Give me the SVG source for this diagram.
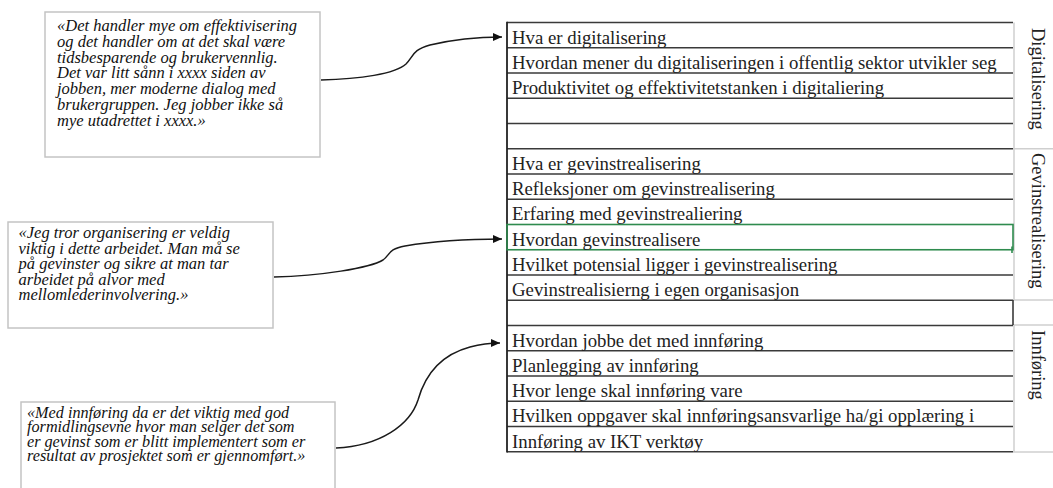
<svg xmlns="http://www.w3.org/2000/svg" width="1053" height="488" viewBox="0 0 1053 488">
<style>
.box{fill:#fff;stroke:#c4c4c4;stroke-width:1.5}
.q{font-family:"Liberation Serif","Times New Roman",serif;font-style:italic;fill:#111}
.q1{font-size:16.5px}
.q3{font-size:16.2px}
.row{font-family:"Liberation Serif","Times New Roman",serif;font-size:18.8px;fill:#222}
.lab{font-family:"Liberation Serif","Times New Roman",serif;font-size:18.5px;fill:#222}
.hl{stroke:#3a3a3a;stroke-width:1.6}
.gl{stroke:#cfcfcf;stroke-width:1.5}
.conn{fill:none;stroke:#1a1a1a;stroke-width:1.5}
</style>
<defs>
<marker id="arr" markerUnits="userSpaceOnUse" markerWidth="10" markerHeight="8" refX="9" refY="4" orient="auto">
<path d="M0,0 L9,4 L0,8 Z" fill="#111"/>
</marker>
</defs>
<rect width="1053" height="488" fill="#fff"/>

<g id="quote1">
<rect class="box" x="45" y="12" width="275" height="145"/>
<text class="q q1" x="57" y="31"><tspan x="57" y="31">«Det handler mye om effektivisering</tspan><tspan x="57" y="46.8">og det handler om at det skal være</tspan><tspan x="57" y="62.6">tidsbesparende og brukervennlig.</tspan><tspan x="57" y="78.4">Det var litt sånn i xxxx siden av</tspan><tspan x="57" y="94.2">jobben, mer moderne dialog med</tspan><tspan x="57" y="110">brukergruppen. Jeg jobber ikke så</tspan><tspan x="57" y="125.8">mye utadrettet i xxxx.»</tspan></text>
</g>

<g id="quote2">
<rect class="box" x="8" y="222" width="265" height="106"/>
<text class="q q1" x="18.5" y="238"><tspan x="18.5" y="238">«Jeg tror organisering er veldig</tspan><tspan x="18.5" y="253.5">viktig i dette arbeidet. Man må se</tspan><tspan x="18.5" y="269">på gevinster og sikre at man tar</tspan><tspan x="18.5" y="284.5">arbeidet på alvor med</tspan><tspan x="18.5" y="300">mellomlederinvolvering.»</tspan></text>
</g>

<g id="quote3">
<rect class="box" x="21" y="402" width="314" height="100"/>
<text class="q q3" x="27" y="418"><tspan x="27" y="418">«Med innføring da er det viktig med god</tspan><tspan x="27" y="432.3">formidlingsevne hvor man selger det som</tspan><tspan x="27" y="446.6">er gevinst som er blitt implementert som er</tspan><tspan x="27" y="460.9">resultat av prosjektet som er gjennomført.»</tspan></text>
</g>

<g id="table">
<g id="label-column">
<line class="gl" x1="1014" y1="22.5" x2="1014" y2="300" />
<line class="gl" x1="1014" y1="325" x2="1014" y2="452" />
<line class="gl" x1="1013" y1="148.8" x2="1053" y2="148.8" />
<line class="gl" x1="1013" y1="300" x2="1053" y2="300" />
<line class="gl" x1="1013" y1="325" x2="1053" y2="325" />
<line class="gl" x1="1013" y1="452" x2="1053" y2="452" />
<line class="hl" x1="1013" y1="300" x2="1013" y2="325" />
</g>
<g id="label-digitalisering"><text class="lab" transform="translate(1032,28) rotate(90)">Digitalisering</text></g>
<g id="label-gevinstrealisering"><text class="lab" transform="translate(1032,153) rotate(90)">Gevinstrealisering</text></g>
<g id="label-innforing"><text class="lab" transform="translate(1032,330) rotate(90)">Innføring</text></g>

<g id="rows">
<line class="hl" x1="507" y1="22.5" x2="1013" y2="22.5"/>
<line class="hl" x1="507" y1="47.75" x2="1013" y2="47.75"/>
<line class="hl" x1="507" y1="73" x2="1013" y2="73"/>
<line class="hl" x1="507" y1="98.25" x2="1013" y2="98.25"/>
<line class="hl" x1="507" y1="123.5" x2="1013" y2="123.5"/>
<line class="hl" x1="507" y1="148.75" x2="1013" y2="148.75"/>
<line class="hl" x1="507" y1="174" x2="1013" y2="174"/>
<line class="hl" x1="507" y1="199.25" x2="1013" y2="199.25"/>
<line class="hl" x1="507" y1="275" x2="1013" y2="275"/>
<line class="hl" x1="507" y1="300.25" x2="1013" y2="300.25"/>
<line class="hl" x1="507" y1="325.5" x2="1013" y2="325.5"/>
<line class="hl" x1="507" y1="350.75" x2="1013" y2="350.75"/>
<line class="hl" x1="507" y1="376" x2="1013" y2="376"/>
<line class="hl" x1="507" y1="401.25" x2="1013" y2="401.25"/>
<line class="hl" x1="507" y1="426.5" x2="1013" y2="426.5"/>
<line class="hl" x1="507" y1="451.75" x2="1013" y2="451.75"/>
<line x1="507" y1="21.7" x2="507" y2="452.5" stroke="#222" stroke-width="1.8"/>
<rect x="507" y="224.5" width="506" height="25.25" fill="none" stroke="#2e8b4e" stroke-width="1.6"/>
<line x1="1012" y1="246.5" x2="1012" y2="253" stroke="#2e8b4e" stroke-width="1.6"/>
</g>

<g id="row-texts">
<text class="row" x="512" y="43.5">Hva er digitalisering</text>
<text class="row" x="512" y="68.75">Hvordan mener du digitaliseringen i offentlig sektor utvikler seg</text>
<text class="row" x="512" y="94">Produktivitet og effektivitetstanken i digitaliering</text>
<text class="row" x="512" y="169.75">Hva er gevinstrealisering</text>
<text class="row" x="512" y="195">Refleksjoner om gevinstrealisering</text>
<text class="row" x="512" y="220.25">Erfaring med gevinstrealiering</text>
<text class="row" x="512" y="245.5">Hvordan gevinstrealisere</text>
<text class="row" x="512" y="270.75">Hvilket potensial ligger i gevinstrealisering</text>
<text class="row" x="512" y="296">Gevinstrealisierng i egen organisasjon</text>
<text class="row" x="512" y="346.5">Hvordan jobbe det med innføring</text>
<text class="row" x="512" y="371.75">Planlegging av innføring</text>
<text class="row" x="512" y="397">Hvor lenge skal innføring vare</text>
<text class="row" x="512" y="422.25">Hvilken oppgaver skal innføringsansvarlige ha/gi opplæring i</text>
<text class="row" x="512" y="447.5">Innføring av IKT verktøy</text>
</g>
</g>

<g id="connectors">
<path class="conn" marker-end="url(#arr)" d="M321,80 C360,79 395,74 406,64 C414,56 412,50 430,45 C455,39 480,37 502,37"/>
<path class="conn" marker-end="url(#arr)" d="M274,277 C320,276 370,268 383,260 C390,255 388,249 405,246 C440,240 475,239 502,239"/>
<path class="conn" marker-end="url(#arr)" d="M336,448 C380,446 410,425 418,400 C425,375 440,355 470,347 C485,343 493,343 500,343"/>
</g>
</svg>
